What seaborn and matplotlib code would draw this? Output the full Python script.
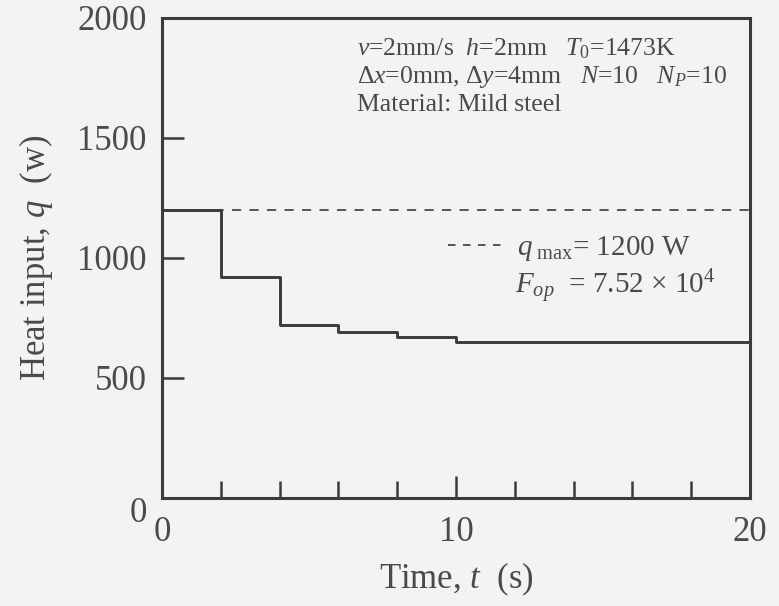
import matplotlib
matplotlib.use("Agg")
import matplotlib.pyplot as plt
import matplotlib.transforms as mtransforms
from matplotlib.lines import Line2D
import seaborn as sns
import pandas as pd

# Data
time_s = [0, 2, 4, 6, 8, 10, 20]
heat_w = [1200, 920, 720, 693, 672, 651, 651]
qmax_t = [0, 20]
qmax_w = [1200, 1200]
x_major = [0, 10, 20]
x_minor = [2, 4, 6, 8, 12, 14, 16, 18]
y_major = [0, 500, 1000, 1500, 2000]

sns.set_theme(style="white")
plt.rcParams['font.family'] = ['Liberation Serif', 'DejaVu Serif']
plt.rcParams['mathtext.fontset'] = 'custom'
plt.rcParams['mathtext.rm'] = 'Liberation Serif'
plt.rcParams['mathtext.it'] = 'Liberation Serif:italic'
plt.rcParams['mathtext.bf'] = 'Liberation Serif:bold'

bg = '#f3f3f1'
ink = '#3b3b3b'
txt = '#4a4a4a'

fig = plt.figure(figsize=(7.79, 6.06), dpi=100, facecolor=bg)
ax = fig.add_axes([162/779, 1-498/606, (750-162)/779, (498-18)/606])
ax.set_facecolor(bg)

df = pd.DataFrame({'t': time_s, 'q': heat_w})
sns.lineplot(data=df, x='t', y='q', ax=ax, drawstyle='steps-post',
             color=ink, linewidth=2.1, estimator=None)
sns.lineplot(x=qmax_t, y=qmax_w, ax=ax, color=ink, linewidth=1.2,
             linestyle=(0, (5.5, 5)), estimator=None)

ax.set_xlim(0, 20)
ax.set_ylim(0, 2000)
ax.set_xticks(x_major)
ax.set_xticks(x_minor, minor=True)
ax.set_yticks(y_major)
ax.set_xticklabels([str(v) for v in x_major])
ax.set_yticklabels([str(v) for v in y_major])

ax.tick_params(axis='x', which='major', direction='in', length=16, width=1.8,
               color=ink, labelsize=25, labelcolor=txt, pad=13, bottom=True)
ax.tick_params(axis='x', which='minor', direction='in', length=12, width=1.8,
               color=ink, bottom=True)
ax.tick_params(axis='y', which='major', direction='in', length=16, width=1.8,
               color=ink, labelsize=25, labelcolor=txt, pad=11, left=True)

for s in ax.spines.values():
    s.set_color(ink)
    s.set_linewidth(2.2)

# shift the "0" y tick label a little lower, as in the original
ylabs = ax.get_yticklabels()
ylabs[0].set_transform(ylabs[0].get_transform() +
                       mtransforms.ScaledTranslation(0, -12/100, fig.dpi_scale_trans))

ax.set_xlabel('Time, $t$  (s)', fontsize=25, color=txt, labelpad=8)
ax.set_ylabel('Heat input, $q$  (w)', fontsize=25, color=txt, labelpad=16)

ax.text(0.332, 0.935, r'$v$=2mm/s  $h$=2mm   $T_{\mathit{0}}$=1473K',
        transform=ax.transAxes, fontsize=18.5, color=txt, va='center')
ax.text(0.332, 0.877,
        r'$\mathit{Δx}$=0mm, $\mathit{Δy}$=4mm   $N$=10   $N_P$=10',
        transform=ax.transAxes, fontsize=18.5, color=txt, va='center')
ax.text(0.332, 0.819, 'Material: Mild steel',
        transform=ax.transAxes, fontsize=18.5, color=txt, va='center')

handle = Line2D([0], [0], color=ink, linewidth=1.2, linestyle=(0, (4.5, 4.5)))
leg = ax.legend([handle], [r'$q_{\,\,\rm max}$= 1200 W'], loc='center left',
                bbox_to_anchor=(0.487, 0.52), frameon=False, fontsize=21,
                handlelength=1.9, handletextpad=0.45, labelcolor=txt,
                borderaxespad=0, borderpad=0)
ax.text(0.601, 0.44, r'$F_{op}$  = 7.52 $\times$ 10$^4$',
        transform=ax.transAxes, fontsize=21, color=txt, va='center')

fig.savefig('out.png', dpi=100, facecolor=bg)
